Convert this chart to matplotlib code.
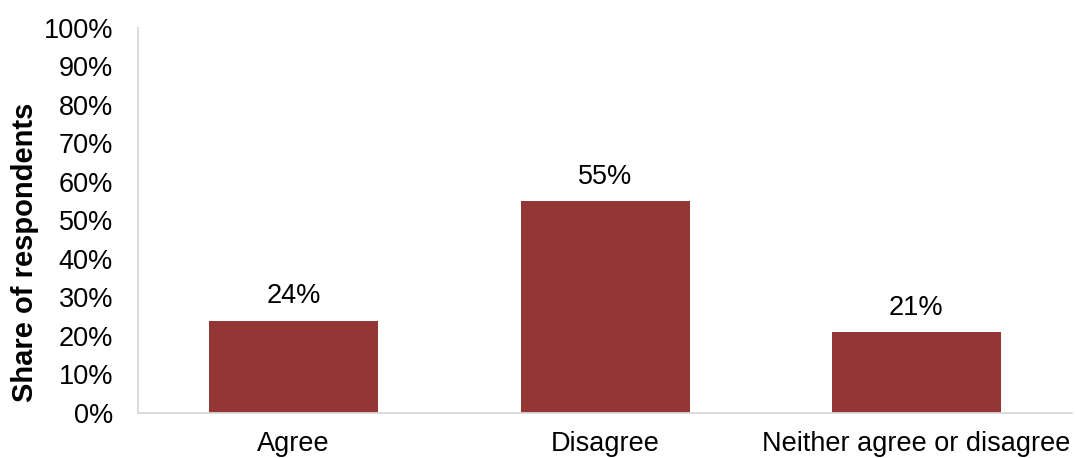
import matplotlib
matplotlib.use('Agg')
import matplotlib.pyplot as plt
from matplotlib.ticker import PercentFormatter

# survey answers and share of respondents
categories = ['Agree', 'Disagree', 'Neither agree or disagree']
shares = [0.24, 0.55, 0.21]
labels = ['24%', '55%', '21%']

plt.rcParams['font.family'] = ['Liberation Sans', 'DejaVu Sans']

fig = plt.figure(figsize=(10.76, 4.58), dpi=100)
ax = fig.add_axes([0.1283, 0.0983, 0.868, 0.8406])

x = range(len(categories))
bars = ax.bar(x, shares, width=0.543, color='#943634')

for b, lab in zip(bars, labels):
    ax.annotate(lab, (b.get_x() + b.get_width() / 2, b.get_height()),
                xytext=(0, 8), textcoords='offset points',
                ha='center', va='bottom', fontsize=19.5)

ax.set_xlim(-0.5, 2.5)
ax.set_ylim(0, 1)
ax.set_yticks([i / 10 for i in range(11)])
ax.yaxis.set_major_formatter(PercentFormatter(1.0, decimals=0))
ax.set_xticks(list(x))
ax.set_xticklabels(categories)
ax.tick_params(axis='both', length=0, labelsize=19.5)
ax.tick_params(axis='x', pad=13)
ax.tick_params(axis='y', pad=18)

for s in ['top', 'right']:
    ax.spines[s].set_visible(False)
for s in ['left', 'bottom']:
    ax.spines[s].set_color('#d9d9d9')
    ax.spines[s].set_linewidth(1.3)

ax.set_ylabel('Share of respondents', fontsize=21, fontweight='bold')
ax.yaxis.set_label_coords(-0.106, 0.418)

fig.savefig('out.png', dpi=100)
